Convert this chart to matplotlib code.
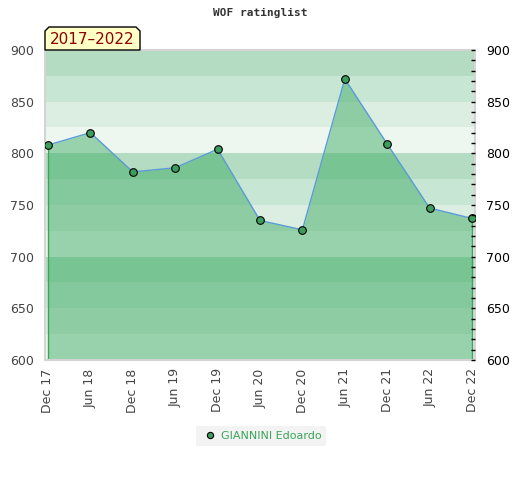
import numpy as np
import matplotlib.pyplot as plt
from matplotlib.patches import Polygon
from matplotlib.lines import Line2D
from matplotlib.ticker import MultipleLocator

dates = ['Dec 17', 'Jun 18', 'Dec 18', 'Jun 19', 'Dec 19', 'Jun 20',
         'Dec 20', 'Jun 21', 'Dec 21', 'Jun 22', 'Dec 22']
rating = [808, 820, 782, 786, 804, 735, 726, 872, 809, 747, 737]
player = 'GIANNINI Edoardo'
period = '2017\u20132022'

band_colors = ['#b3dcc2', '#c8e6d4', '#dcede2', '#eef6f0']

W, H = 520, 480
fig = plt.figure(figsize=(W / 100, H / 100), dpi=100)
ax = fig.add_axes([45 / W, 1 - 360 / H, 430 / W, 310 / H])

# background bands, 25 points each, repeating every 100
for i, lo in enumerate(range(875, 599, -25)):
    ax.axhspan(lo, lo + 25, color=band_colors[i % 4], lw=0, zorder=0)

x = np.arange(len(dates))
ax.fill_between(x, 600, rating, color='#33a85c', alpha=0.46, lw=0, zorder=1)
ax.plot(x, rating, color='#5b9bd5', lw=1.0, zorder=2)
ax.vlines([x[0], x[-1]], 600, [rating[0], rating[-1]], color='#3aa55a', lw=1.0, zorder=2)
ax.plot(x, rating, 'o', ms=5.5, mfc='#3c9d5d', mec='black', mew=0.8, zorder=3)

ax.set_xlim(-0.07, len(dates) - 1 + 0.07)
ax.set_ylim(600, 900)
ax.set_xticks(x)
ax.set_xticklabels(dates, rotation=90, fontsize=9, color='#444444')
ax.tick_params(axis='x', length=0, pad=6)
ax.yaxis.set_major_locator(MultipleLocator(50))
ax.tick_params(axis='y', length=0, labelsize=9, labelcolor='#444444', pad=8)
for s in ax.spines.values():
    s.set_color('#d4d4d4')
    s.set_linewidth(1.5)

ax2 = ax.twinx()
ax2.set_ylim(600, 900)
ax2.yaxis.set_major_locator(MultipleLocator(50))
ax2.yaxis.set_minor_locator(MultipleLocator(10))
ax2.tick_params(axis='y', which='both', direction='in', length=3, width=1,
                color='black', labelsize=9, labelcolor='black', pad=8)
for s in ax2.spines.values():
    s.set_visible(False)

fig.text(0.5, 1 - 13 / H, 'WOF ratinglist', ha='center', va='center',
         family='DejaVu Sans Mono', fontweight='bold', fontsize=8, color='#333333')

# period label box with cut top corners
x0, x1, y0, y1, c = 45, 140, 27, 50, 4
pts = [(x0, y1), (x0, y0 + c), (x0 + c, y0), (x1 - c, y0), (x1, y0 + c), (x1, y1)]
pts = [(px / W, 1 - py / H) for px, py in pts]
fig.patches.append(Polygon(pts, closed=True, transform=fig.transFigure,
                           facecolor='#ffffc6', edgecolor='black', lw=1, zorder=5))
fig.text((x0 + x1) / 2 / W, 1 - 40 / H, period, ha='center', va='center',
         fontsize=11, color='#8b0000', zorder=6)

handle = Line2D([], [], marker='o', ls='none', ms=4.5, mfc='#3c9d5d', mec='black', mew=0.8)
leg = fig.legend([handle], [player], loc='center', bbox_to_anchor=(261 / W, 1 - 436 / H),
                 frameon=True, fontsize=8, handletextpad=0.2, borderpad=0.45,
                 handlelength=1.6, fancybox=False)
leg.get_frame().set_facecolor('#f0f0f0')
leg.get_frame().set_edgecolor('none')
for t in leg.get_texts():
    t.set_color('#3aa55a')

fig.savefig('out.png', dpi=100)
